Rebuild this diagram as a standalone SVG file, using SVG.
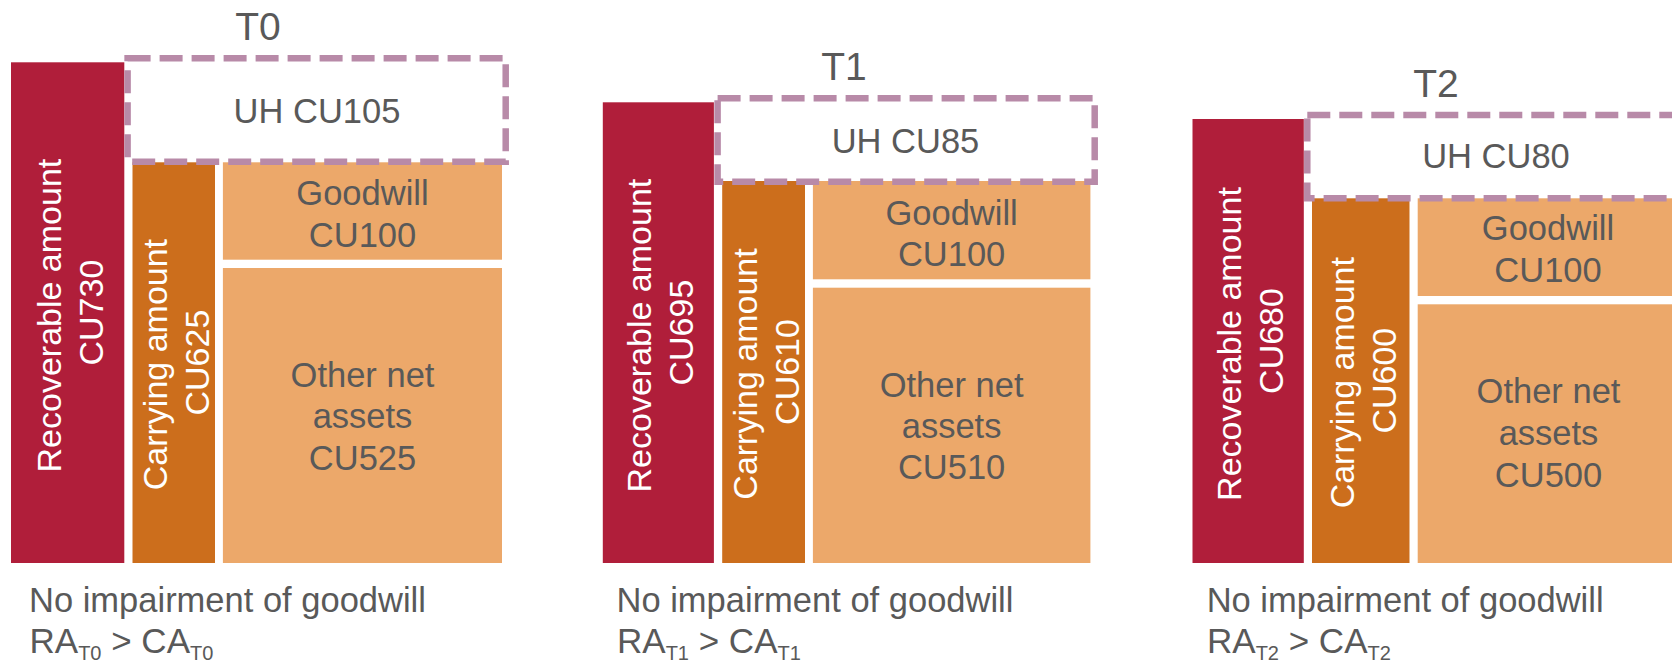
<svg xmlns="http://www.w3.org/2000/svg" width="1672" height="660" viewBox="0 0 1672 660">
  <style>
    text { font-family: "Liberation Sans", Arial, sans-serif; }
    .ra { fill: #B01E3A; }
    .ca { fill: #CC6E1C; }
    .part { fill: #ECA86A; }
    .uh { fill: none; stroke: #B88AA8; stroke-width: 6.5; stroke-dasharray: 23 9; }
    .head { font-size: 39px; fill: #595959; text-anchor: middle; }
    .lbl { font-size: 34.5px; fill: #595959; text-anchor: middle; }
    .vlbl { font-size: 34px; fill: #FFFFFF; text-anchor: middle; }
    .note { font-size: 34.5px; fill: #595959; }
    .cmp { font-size: 35px; fill: #595959; }
    .sub { font-size: 20px; }
  </style>

  <!-- Time T0 -->
  <g id="t0">
    <text class="head" x="258" y="40">T0</text>
    <g id="t0-recoverable">
      <rect class="ra" x="11" y="62.3" width="113.3" height="500.7"/>
      <text class="vlbl" transform="translate(67.6,312.6) rotate(-90)"><tspan x="-3" y="-7">Recoverable amount</tspan><tspan x="0" y="35">CU730</tspan></text>
    </g>
    <g id="t0-carrying">
      <rect class="ca" x="132.5" y="162.3" width="82.5" height="400.7"/>
      <text class="vlbl" transform="translate(173.8,362.6) rotate(-90)"><tspan x="-2" y="-7">Carrying amount</tspan><tspan x="0" y="35">CU625</tspan></text>
    </g>
    <g id="t0-goodwill">
      <rect class="part" x="222.9" y="162.3" width="279.1" height="97.4"/>
      <text class="lbl"><tspan x="362.5" y="205">Goodwill</tspan><tspan x="362.5" y="247">CU100</tspan></text>
    </g>
    <g id="t0-other">
      <rect class="part" x="222.9" y="268" width="279.1" height="295"/>
      <text class="lbl"><tspan x="362.5" y="386.7">Other net</tspan><tspan x="362.5" y="428.3">assets</tspan><tspan x="362.5" y="470">CU525</tspan></text>
    </g>
    <g id="t0-headroom">
      <rect class="uh" x="127.6" y="58.3" width="378.1" height="103.4"/>
      <text class="lbl" x="317" y="123.3">UH CU105</text>
    </g>
    <g id="t0-result">
      <text class="note" x="29" y="612">No impairment of goodwill</text>
      <text class="cmp" x="29.5" y="653">RA<tspan class="sub" dy="6.5">T0</tspan><tspan dy="-6.5"> &gt; CA</tspan><tspan class="sub" dy="6.5">T0</tspan></text>
    </g>
  </g>

  <!-- Time T1 -->
  <g id="t1">
    <text class="head" x="844" y="80">T1</text>
    <g id="t1-recoverable">
      <rect class="ra" x="602.8" y="102.3" width="111.1" height="460.7"/>
      <text class="vlbl" transform="translate(658.4,332.6) rotate(-90)"><tspan x="-3" y="-7">Recoverable amount</tspan><tspan x="0" y="35">CU695</tspan></text>
    </g>
    <g id="t1-carrying">
      <rect class="ca" x="722.2" y="181" width="82.8" height="382"/>
      <text class="vlbl" transform="translate(763.6,372) rotate(-90)"><tspan x="-2" y="-7">Carrying amount</tspan><tspan x="0" y="35">CU610</tspan></text>
    </g>
    <g id="t1-goodwill">
      <rect class="part" x="812.9" y="181" width="277.5" height="98.3"/>
      <text class="lbl"><tspan x="951.6" y="225">Goodwill</tspan><tspan x="951.6" y="266">CU100</tspan></text>
    </g>
    <g id="t1-other">
      <rect class="part" x="812.9" y="287.7" width="277.5" height="275.3"/>
      <text class="lbl"><tspan x="951.6" y="396.7">Other net</tspan><tspan x="951.6" y="438.3">assets</tspan><tspan x="951.6" y="479.3">CU510</tspan></text>
    </g>
    <g id="t1-headroom">
      <rect class="uh" x="717.6" y="98.3" width="377.1" height="83.4"/>
      <text class="lbl" x="905.5" y="153.3">UH CU85</text>
    </g>
    <g id="t1-result">
      <text class="note" x="616.5" y="612">No impairment of goodwill</text>
      <text class="cmp" x="617" y="653">RA<tspan class="sub" dy="6.5">T1</tspan><tspan dy="-6.5"> &gt; CA</tspan><tspan class="sub" dy="6.5">T1</tspan></text>
    </g>
  </g>

  <!-- Time T2 -->
  <g id="t2">
    <text class="head" x="1436" y="97">T2</text>
    <g id="t2-recoverable">
      <rect class="ra" x="1192.5" y="119" width="111.3" height="444"/>
      <text class="vlbl" transform="translate(1248.2,341) rotate(-90)"><tspan x="-3" y="-7">Recoverable amount</tspan><tspan x="0" y="35">CU680</tspan></text>
    </g>
    <g id="t2-carrying">
      <rect class="ca" x="1312" y="198.3" width="97.5" height="364.7"/>
      <text class="vlbl" transform="translate(1360.8,380.7) rotate(-90)"><tspan x="-2" y="-7">Carrying amount</tspan><tspan x="0" y="35">CU600</tspan></text>
    </g>
    <g id="t2-goodwill">
      <rect class="part" x="1417.7" y="198.3" width="260.3" height="97.7"/>
      <text class="lbl"><tspan x="1548" y="240">Goodwill</tspan><tspan x="1548" y="281.7">CU100</tspan></text>
    </g>
    <g id="t2-other">
      <rect class="part" x="1417.7" y="304.3" width="260.3" height="258.7"/>
      <text class="lbl"><tspan x="1548.5" y="403">Other net</tspan><tspan x="1548.5" y="445">assets</tspan><tspan x="1548.5" y="487">CU500</tspan></text>
    </g>
    <g id="t2-headroom">
      <rect class="uh" x="1307.3" y="115" width="378" height="83.3"/>
      <text class="lbl" x="1496" y="168">UH CU80</text>
    </g>
    <g id="t2-result">
      <text class="note" x="1206.7" y="612">No impairment of goodwill</text>
      <text class="cmp" x="1207" y="653">RA<tspan class="sub" dy="6.5">T2</tspan><tspan dy="-6.5"> &gt; CA</tspan><tspan class="sub" dy="6.5">T2</tspan></text>
    </g>
  </g>

  <!-- no connectors in this figure -->
  <g id="connectors"/>
</svg>
